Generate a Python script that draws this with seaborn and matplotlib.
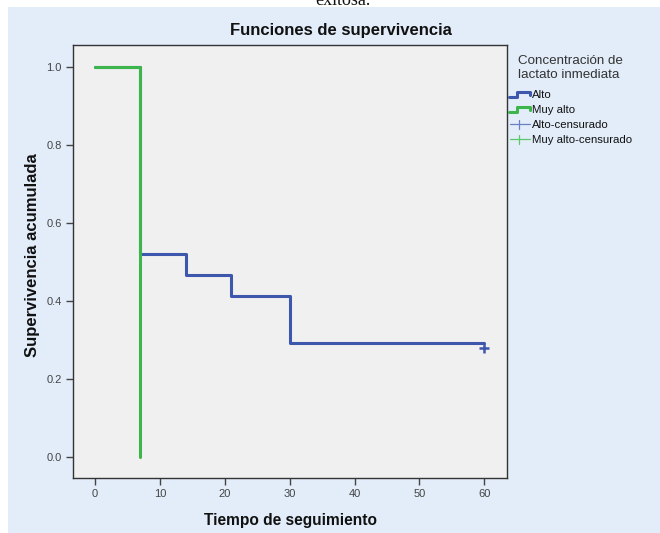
import matplotlib
matplotlib.use("Agg")
import matplotlib.pyplot as plt
from matplotlib.lines import Line2D
from matplotlib.legend_handler import HandlerBase
from matplotlib.patches import Rectangle
import pandas as pd
import seaborn as sns

# Kaplan-Meier step values per lactate group
groups = ["Alto", "Muy alto"]
times_alto = [0, 7, 14, 21, 30, 60]
surv_alto = [1.0, 0.52, 0.467, 0.413, 0.293, 0.293]
times_muy_alto = [0, 7]
surv_muy_alto = [1.0, 0.0]
# censored observations
cens_time_alto = [60]
cens_surv_alto = [0.28]

x_ticks = [0, 10, 20, 30, 40, 50, 60]
y_ticks = [0.0, 0.2, 0.4, 0.6, 0.8, 1.0]
legend_labels = ["Alto", "Muy alto", "Alto-censurado", "Muy alto-censurado"]

colors = {"Alto": "#3d57ad", "Muy alto": "#3cb54a"}

sns.set_style("white")
plt.rcParams["font.family"] = ["Liberation Sans", "DejaVu Sans"]

df = pd.concat([
    pd.DataFrame({"t": times_alto, "s": surv_alto, "g": "Alto"}),
    pd.DataFrame({"t": times_muy_alto, "s": surv_muy_alto, "g": "Muy alto"}),
], ignore_index=True)
cens = pd.DataFrame({"t": cens_time_alto, "s": cens_surv_alto, "g": "Alto"})

fig = plt.figure(figsize=(6.6, 5.33), dpi=100)
fig.patch.set_facecolor("white")
fig.add_artist(Rectangle((8 / 660, 0), 1 - 8 / 660, 1 - 7 / 533,
                         transform=fig.transFigure, facecolor="#e2edf9",
                         edgecolor="none", zorder=-10))

ax = fig.add_axes([73 / 660, 55 / 533, 434 / 660, 433 / 533])
ax.set_facecolor("#f0f0f0")

sns.lineplot(data=df, x="t", y="s", hue="g", palette=colors, estimator=None,
             sort=False, drawstyle="steps-post", linewidth=2.2, ax=ax,
             legend=False)
sns.scatterplot(data=cens, x="t", y="s", hue="g", palette=colors, marker="+",
                s=55, linewidth=1.8, ax=ax, legend=False, zorder=5)

ax.set_xlim(-3.4, 63.5)
ax.set_ylim(-0.054, 1.056)
ax.set_xticks(x_ticks)
ax.set_yticks(y_ticks)
ax.set_yticklabels([f"{v:.1f}" for v in y_ticks])
ax.tick_params(axis="both", direction="out", length=5, width=1,
               color="#444444", labelcolor="#444444", labelsize=8, bottom=True,
               left=True, pad=3)
for sp in ax.spines.values():
    sp.set_color("#333333")
    sp.set_linewidth(1)

ax.set_xlabel("Tiempo de seguimiento", fontsize=11.2, fontweight="bold",
              color="#111111", labelpad=10)
ax.set_ylabel("Supervivencia acumulada", fontsize=12, fontweight="bold",
              color="#111111")
ax.yaxis.set_label_coords(-0.076, 0.515)

fig.text(341 / 660, 1 - 31 / 533, "Funciones de supervivencia", ha="center",
         va="center", fontsize=12, fontweight="bold", color="#111111")
fig.text(343 / 660, 1 - 5 / 533, "exitosa.", ha="center", va="baseline",
         fontsize=13, family=["Liberation Serif", "DejaVu Serif"], color="#111111")

fig.text(518 / 660, 1 - 55 / 533, "Concentración de\nlactato inmediata",
         ha="left", va="top", fontsize=9.6, color="#333333", linespacing=1.2)


class StepHandler(HandlerBase):
    def create_artists(self, legend, orig_handle, xdescent, ydescent, width,
                       height, fontsize, trans):
        x0 = -xdescent
        lo = -ydescent + 0.15 * height
        hi = -ydescent + 0.75 * height
        xs = [x0, x0 + 0.4 * width, x0 + 0.4 * width, x0 + width, x0 + width]
        ys = [lo, lo, hi, hi, lo + 0.25 * height]
        ln = Line2D(xs, ys, color=orig_handle.get_color(), linewidth=2.2,
                    transform=trans)
        return [ln]


class CrossHandler(HandlerBase):
    def create_artists(self, legend, orig_handle, xdescent, ydescent, width,
                       height, fontsize, trans):
        x0 = -xdescent
        yc = -ydescent + 0.5 * height
        xc = x0 + 0.5 * width
        h = Line2D([x0 + 0.05 * width, x0 + width], [yc, yc],
                   color=orig_handle.get_color(), linewidth=0.9, transform=trans)
        v = Line2D([xc, xc], [yc - 0.55 * height, yc + 0.55 * height],
                   color=orig_handle.get_color(), linewidth=0.9, transform=trans)
        return [h, v]


handles = [
    Line2D([], [], color=colors["Alto"]),
    Line2D([], [], color=colors["Muy alto"]),
    Line2D([], [], color="#6a7fc4"),
    Line2D([], [], color="#5cc86a"),
]
leg = fig.legend(handles, legend_labels,
                 handler_map={handles[0]: StepHandler(), handles[1]: StepHandler(),
                              handles[2]: CrossHandler(), handles[3]: CrossHandler()},
                 loc="upper left", bbox_to_anchor=(509 / 660, 1 - 90 / 533),
                 frameon=False, fontsize=8.2,
                 handlelength=1.8, handletextpad=0.25, labelspacing=0.45,
                 borderaxespad=0, borderpad=0)
for t in leg.get_texts():
    t.set_color("#111111")

fig.savefig("out.png", dpi=100)
